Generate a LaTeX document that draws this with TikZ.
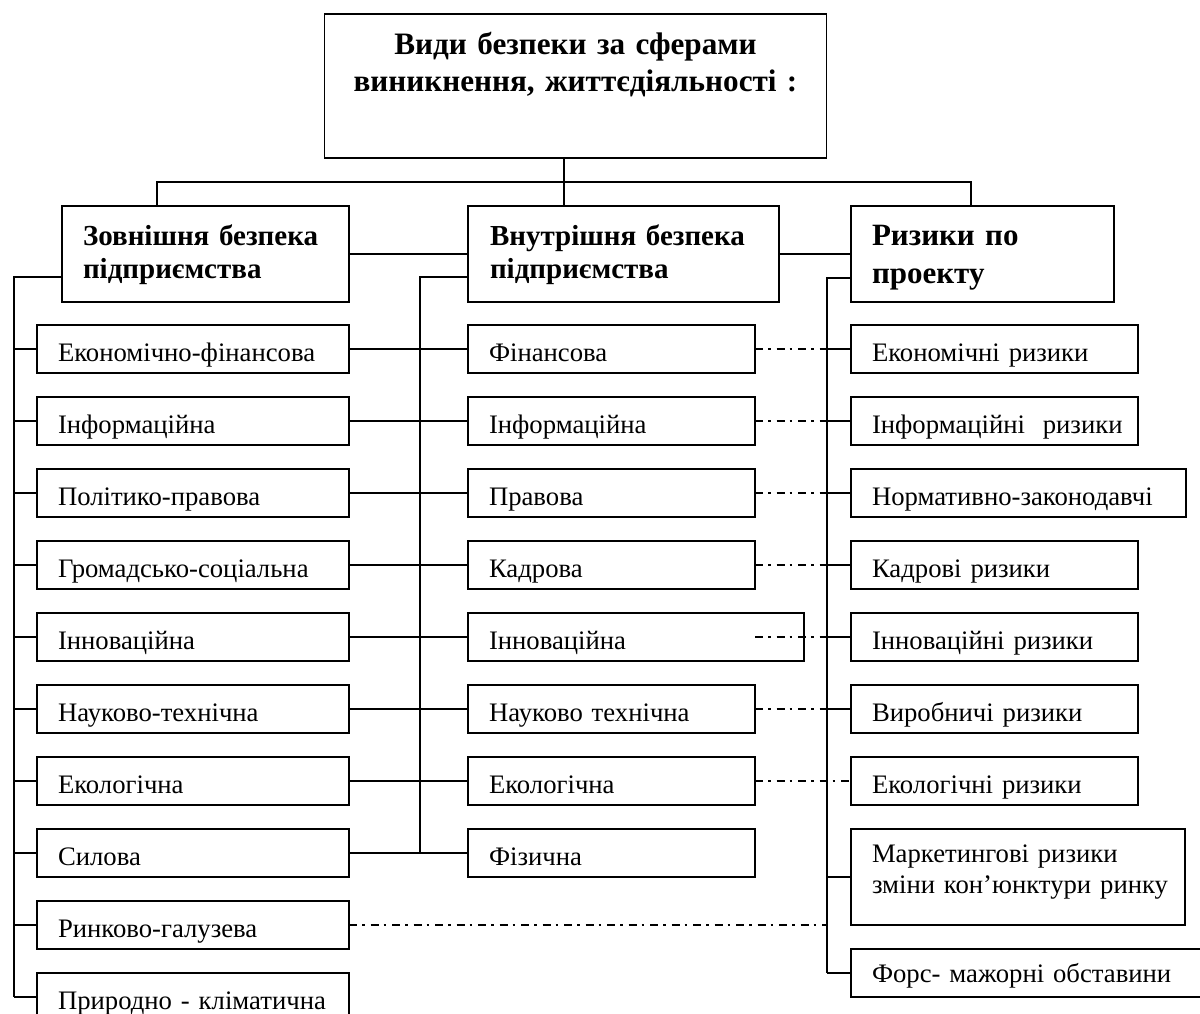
\documentclass[tikz,border=0pt]{standalone}
\usepackage{fontspec}
\setmainfont{Liberation Serif}
\usetikzlibrary{calc}
\begin{document}
\begin{tikzpicture}[x=1pt,y=-1pt,
  bx/.style={draw,line width=1.9pt,anchor=north west,outer sep=0pt,inner xsep=21pt,inner ysep=0pt,align=left,text height=36pt,text depth=12pt,font=\fontsize{26.7}{31}\selectfont},
  hd/.style={draw,line width=1.9pt,anchor=north west,outer sep=0pt,inner xsep=21pt,inner ysep=0pt,align=left,text height=39pt,text depth=57pt},
  ln/.style={line width=1.9pt},
  dd/.style={line width=1.9pt,dash pattern=on 8pt off 5pt on 2.5pt off 6pt}]
\useasboundingbox (0,0) rectangle (1200,1014);
\clip (0,0) rectangle (1200,1014);

% top
\node[hd,align=center,text width=460pt,text height=41pt,text depth=103pt,font=\bfseries\fontsize{31.2}{37}\selectfont] (top) at (324.5,14) {Види безпеки за сферами\\виникнення, життєдіяльності :};

% level 2
\node[hd,text width=245pt,font=\bfseries\fontsize{29}{33}\selectfont] (ext) at (62,206) {Зовнішня безпека\\підприємства};
\node[hd,inner xsep=22pt,text width=267pt,font=\bfseries\fontsize{29}{33}\selectfont] (int) at (468,206) {Внутрішня безпека\\підприємства};
\node[hd,text width=221pt,font=\bfseries\fontsize{31}{38}\selectfont] (rsk) at (851,206) {Ризики по\\проекту};

% left column
\node[bx,text width=270pt] (l1) at (37,325) {Економічно-фінансова};
\node[bx,text width=270pt] (l2) at (37,397) {Інформаційна};
\node[bx,text width=270pt] (l3) at (37,469) {Політико-правова};
\node[bx,text width=270pt] (l4) at (37,541) {Громадсько-соціальна};
\node[bx,text width=270pt] (l5) at (37,613) {Інноваційна};
\node[bx,text width=270pt] (l6) at (37,685) {Науково-технічна};
\node[bx,text width=270pt] (l7) at (37,757) {Екологічна};
\node[bx,text width=270pt] (l8) at (37,829) {Силова};
\node[bx,text width=270pt] (l9) at (37,901) {Ринково-галузева};
\node[bx,text width=270pt] (l10) at (37,973) {Природно - кліматична};

% middle column
\node[bx,text width=245pt] (m1) at (468,325) {Фінансова};
\node[bx,text width=245pt] (m2) at (468,397) {Інформаційна};
\node[bx,text width=245pt] (m3) at (468,469) {Правова};
\node[bx,text width=245pt] (m4) at (468,541) {Кадрова};
\node[bx,text width=294pt] (m5) at (468,613) {Інноваційна};
\node[bx,text width=245pt] (m6) at (468,685) {Науково технічна};
\node[bx,text width=245pt] (m7) at (468,757) {Екологічна};
\node[bx,text width=245pt] (m8) at (468,829) {Фізична};

% right column
\node[bx,text width=245pt] (r1) at (851,325) {Економічні ризики};
\node[bx,text width=245pt] (r2) at (851,397) {Інформаційні~ ризики};
\node[bx,text width=293pt] (r3) at (851,469) {\mbox{Нормативно-законодавчі}};
\node[bx,text width=245pt] (r4) at (851,541) {Кадрові ризики};
\node[bx,text width=245pt] (r5) at (851,613) {Інноваційні ризики};
\node[bx,text width=245pt] (r6) at (851,685) {Виробничі ризики};
\node[bx,text width=245pt] (r7) at (851,757) {Екологічні ризики};
\node[bx,text width=292pt,text height=33pt,text depth=63pt] (r8) at (851,829) {\mbox{Маркетингові ризики}\\\mbox{зміни кон’юнктури ринку}};
\node[bx,text width=318pt,text height=33pt,text depth=15pt] (r9) at (851,949) {\mbox{Форс- мажорні обставини}};

% top connectors
\coordinate (tj) at (564,182);
\coordinate (bl) at (157,182);
\coordinate (br) at (971,182);
\draw[ln] (tj |- top.south) -- (tj |- int.north);
\draw[ln] (bl |- ext.north) -- (bl) -- (br) -- (br |- rsk.north);
\draw[ln] (ext.east) -- (int.west);
\draw[ln] (int.east) -- (rsk.west);

% trunks
\coordinate (lt) at (14,0);
\coordinate (mt) at (420,0);
\coordinate (rt) at (827,0);
\coordinate (lj) at ($(ext.south west)+(0,-25)$);
\coordinate (mj) at ($(int.south west)+(0,-25)$);
\coordinate (rj) at ($(rsk.south west)+(0,-24)$);
\draw[ln] (lj) -- (lj -| lt) -- (lt |- l10.west);
\draw[ln] (mj) -- (mj -| mt) -- (mt |- m8.west);
\draw[ln] (rj) -- (rj -| rt) -- (rt |- r9.west);

% left stubs
\foreach \k in {1,...,10} \draw[ln] (lt |- l\k.west) -- (l\k.west);
% left to middle
\foreach \k in {1,...,8} \draw[ln] (l\k.east) -- (m\k.west);
% right stubs
\foreach \k in {1,2,3,4,5,6,8,9} \draw[ln] (rt |- r\k.west) -- (r\k.west);

% dash-dot links
\foreach \k in {1,2,3,4,6} \draw[dd] (m\k.east) -- (rt |- m\k.east);
\draw[dd] (m1.east |- m5.east) -- (rt |- m5.east);
\draw[dd] (m7.east) -- (r7.west);
\draw[dd] (l9.east) -- (rt |- l9.east);
\end{tikzpicture}
\end{document}
